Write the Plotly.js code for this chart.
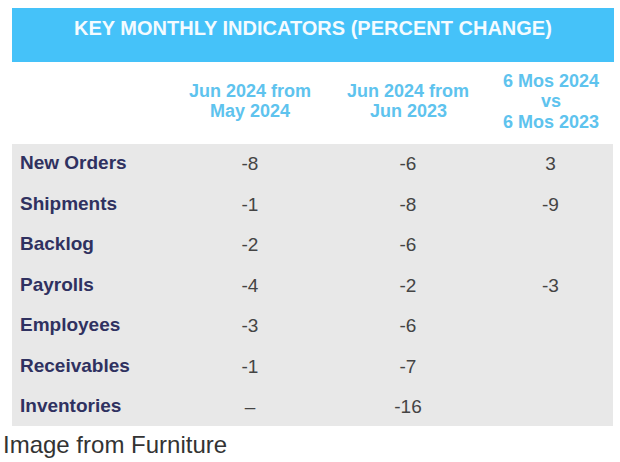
<!DOCTYPE html>
<html>
<head>
<meta charset="utf-8">
<script src="https://cdn.plot.ly/plotly-3.0.1.min.js"></script>
<style>html,body{margin:0;padding:0;background:#fff}#chart{width:620px;height:462px}</style>
</head>
<body>
<div id="chart"></div>
<script>
var titleText = "KEY MONTHLY INDICATORS (PERCENT CHANGE)";
var columnHeaders = ["", "Jun 2024 from<br>May 2024", "Jun 2024 from<br>Jun 2023", "6 Mos 2024<br>vs<br>6 Mos 2023"];
var indicators = ["New Orders", "Shipments", "Backlog", "Payrolls", "Employees", "Receivables", "Inventories"];
var monthOverMonth = ["-8", "-1", "-2", "-4", "-3", "-1", "–"];
var yearOverYear = ["-6", "-8", "-6", "-2", "-6", "-7", "-16"];
var sixMonths = ["3", "-9", "", "-3", "", "", ""];
var sourceText = "Image from Furniture";

var W = 620, H = 462;
function py(p){ return 1 - p / H; }
function px(p){ return p / W; }
var FONT = "Liberation Sans, Arial, sans-serif";
var GREY = "#e8e8e8";
var CLEAR = "rgba(0,0,0,0)";

var colEdges = [12, 172, 328, 488, 613];

function blankHeader(n){
  var v = []; for (var i = 0; i < n; i++) v.push("");
  return {values: v, height: 1, fill: {color: CLEAR}, line: {width: 0, color: CLEAR}};
}

var labelTable = {
  type: "table",
  domain: {x: [px(colEdges[0]), px(colEdges[1])], y: [py(424), py(143)]},
  header: blankHeader(1),
  cells: {
    values: [indicators.map(function(s){ return "<b>" + s + "</b>"; })],
    align: "left",
    height: 40.5,
    fill: {color: CLEAR},
    line: {width: 0, color: CLEAR},
    font: {family: FONT, size: 19, color: "#2f3160"}
  }
};

var valueTable = {
  type: "table",
  domain: {x: [px(colEdges[1]), px(colEdges[4])], y: [py(428), py(147)]},
  columnwidth: [156, 160, 125],
  header: blankHeader(3),
  cells: {
    values: [monthOverMonth, yearOverYear, sixMonths],
    align: "center",
    height: 40.5,
    fill: {color: CLEAR},
    line: {width: 0, color: CLEAR},
    font: {family: FONT, size: 19, color: "#444444"}
  }
};

var annotations = [{
  xref: "paper", yref: "paper", x: px(313), y: py(28), xanchor: "center", yanchor: "middle",
  text: "<b>" + titleText + "</b>", showarrow: false,
  font: {family: FONT, size: 20, color: "#f4fbff"}
}, {
  xref: "paper", yref: "paper", x: px(1), y: py(444), xanchor: "left", yanchor: "middle",
  text: sourceText, showarrow: false,
  font: {family: FONT, size: 24, color: "#333333"}
}];

var headerCenterY = 101, headerLineGap = 20.5;
columnHeaders.forEach(function(h, ci){
  if (!h) return;
  var lines = h.split("<br>");
  var cx = (colEdges[ci] + colEdges[ci + 1]) / 2;
  lines.forEach(function(line, li){
    var yy = headerCenterY + (li - (lines.length - 1) / 2) * headerLineGap;
    annotations.push({
      xref: "paper", yref: "paper", x: px(cx), y: py(yy), xanchor: "center", yanchor: "middle",
      text: "<b>" + line + "</b>", showarrow: false,
      font: {family: FONT, size: 18, color: "#5ec3ee"}
    });
  });
});

var layout = {
  width: W, height: H,
  margin: {l: 0, r: 0, t: 0, b: 0},
  paper_bgcolor: "#ffffff",
  showlegend: false,
  shapes: [{
    type: "rect", xref: "paper", yref: "paper", layer: "below",
    x0: px(12), x1: px(614), y0: py(62), y1: py(8),
    fillcolor: "#45c2f9", line: {width: 0}
  }, {
    type: "rect", xref: "paper", yref: "paper", layer: "below",
    x0: px(colEdges[0]), x1: px(colEdges[4]), y0: py(426), y1: py(144),
    fillcolor: GREY, line: {width: 0}
  }],
  annotations: annotations
};

Plotly.newPlot("chart", [labelTable, valueTable], layout, {displayModeBar: false, staticPlot: true});
</script>
</body>
</html>
